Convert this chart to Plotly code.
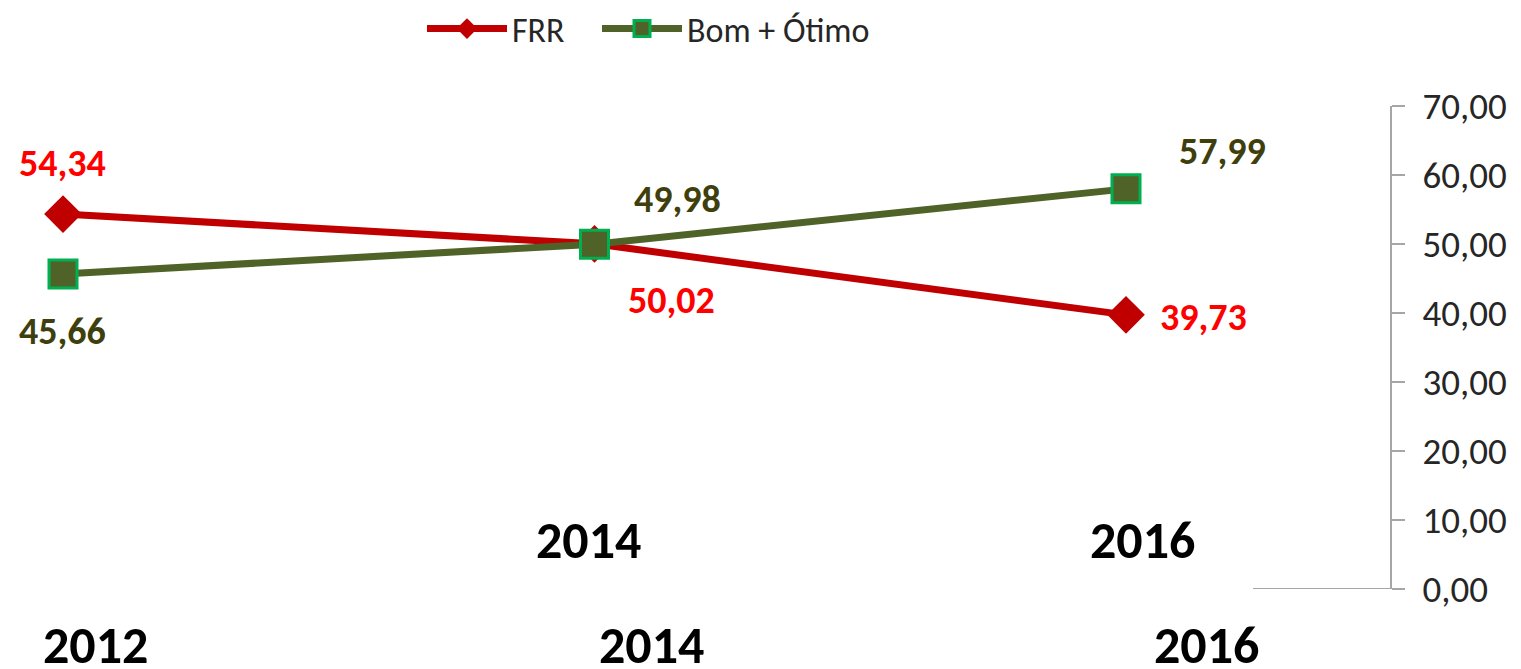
import plotly.graph_objects as go

years = ["2012", "2014", "2016"]
frr = [54.34, 50.02, 39.73]
bom_otimo = [45.66, 49.98, 57.99]
frr_labels = ["54,34", "50,02", "39,73"]
bom_labels = ["45,66", "49,98", "57,99"]
upper_year_labels = ["2014", "2016"]
lower_year_labels = ["2012", "2014", "2016"]
y_ticks = [0, 10, 20, 30, 40, 50, 60, 70]

FONT = "Carlito, Calibri, Lato, sans-serif"
RED_LINE = "#C00000"
RED_TEXT = "#FF0000"
GREEN_LINE = "#4F6228"
GREEN_EDGE = "#00B050"
GREEN_TEXT = "#3F3F0E"

W, H = 1521, 669
ML, MR, MT, MB = 0, W - 1390, 106, H - 589

fig = go.Figure()
fig.add_trace(go.Scatter(
    x=years, y=frr, name="FRR", mode="lines+markers",
    line=dict(color=RED_LINE, width=7),
    marker=dict(symbol="diamond", size=29, color=RED_LINE),
    legend="legend",
))
fig.add_trace(go.Scatter(
    x=years, y=bom_otimo, name="Bom + Ótimo", mode="lines+markers",
    line=dict(color=GREEN_LINE, width=7),
    marker=dict(symbol="square", size=28, color=GREEN_LINE,
                line=dict(color=GREEN_EDGE, width=3)),
    legend="legend2",
))

annotations = []
frr_shifts = [(-1, 51), (77, -56), (77, -2)]
bom_shifts = [(-1, -57), (83, 45), (96, 38)]
for i, (v, t, (dx, dy)) in enumerate(zip(frr, frr_labels, frr_shifts)):
    annotations.append(dict(x=i, y=v, xref="x", yref="y", text=t, showarrow=False,
                            xshift=dx, yshift=dy,
                            font=dict(family=FONT, size=38, color=RED_TEXT, weight="bold")))
for i, (v, t, (dx, dy)) in enumerate(zip(bom_otimo, bom_labels, bom_shifts)):
    annotations.append(dict(x=i, y=v, xref="x", yref="y", text=t, showarrow=False,
                            xshift=dx, yshift=dy,
                            font=dict(family=FONT, size=38, color=GREEN_TEXT, weight="bold")))

# year label rows (pixel positions of the overlay in the reference)
plot_w = 1390.0
plot_h = 589 - 106.0
upper_x = [588, 1142]
lower_x = [95, 651, 1206]
for t, px in zip(upper_year_labels, upper_x):
    annotations.append(dict(x=px / plot_w, y=(589 - 540) / plot_h, xref="paper", yref="paper",
                            text=t, showarrow=False, xanchor="center", yanchor="middle",
                            font=dict(family=FONT, size=52, color="#000000", weight="bold")))
for t, px in zip(lower_year_labels, lower_x):
    annotations.append(dict(x=px / plot_w, y=(589 - 645) / plot_h, xref="paper", yref="paper",
                            text=t, showarrow=False, xanchor="center", yanchor="middle",
                            font=dict(family=FONT, size=52, color="#000000", weight="bold")))

legend_common = dict(orientation="h", xanchor="left", y=1 + 106 / plot_h, yanchor="top",
                     font=dict(family=FONT, size=34, color="#262626"),
                     itemwidth=80, bgcolor="rgba(0,0,0,0)")

fig.update_layout(
    width=W, height=H,
    margin=dict(l=ML, r=MR, t=MT, b=MB, pad=0),
    paper_bgcolor="white", plot_bgcolor="white",
    separators=",.",
    showlegend=True,
    legend=dict(x=422 / plot_w, **legend_common),
    legend2=dict(x=597 / plot_w, **legend_common),
    xaxis=dict(type="category", range=[-63 / 531.5, (1390 - 63) / 531.5],
               showline=False, showgrid=False, zeroline=False, showticklabels=False,
               ticks=""),
    yaxis=dict(side="right", range=[0, 70], tickvals=y_ticks, tickformat=".2f",
               showline=True, linecolor="#A6A6A6", linewidth=2,
               ticks="outside", ticklen=13, tickwidth=2, tickcolor="#A6A6A6",
               showgrid=False, zeroline=False,
               tickfont=dict(family=FONT, size=37, color="#262626"),
               ticklabelstandoff=10),
    annotations=annotations,
    shapes=[dict(type="line", xref="paper", yref="y", x0=1253 / plot_w, x1=1403 / plot_w,
                 y0=0, y1=0, line=dict(color="#A6A6A6", width=2))],
)

fig.write_html("out.html", config={"displayModeBar": False},
               post_script="document.body.style.margin='0';")
